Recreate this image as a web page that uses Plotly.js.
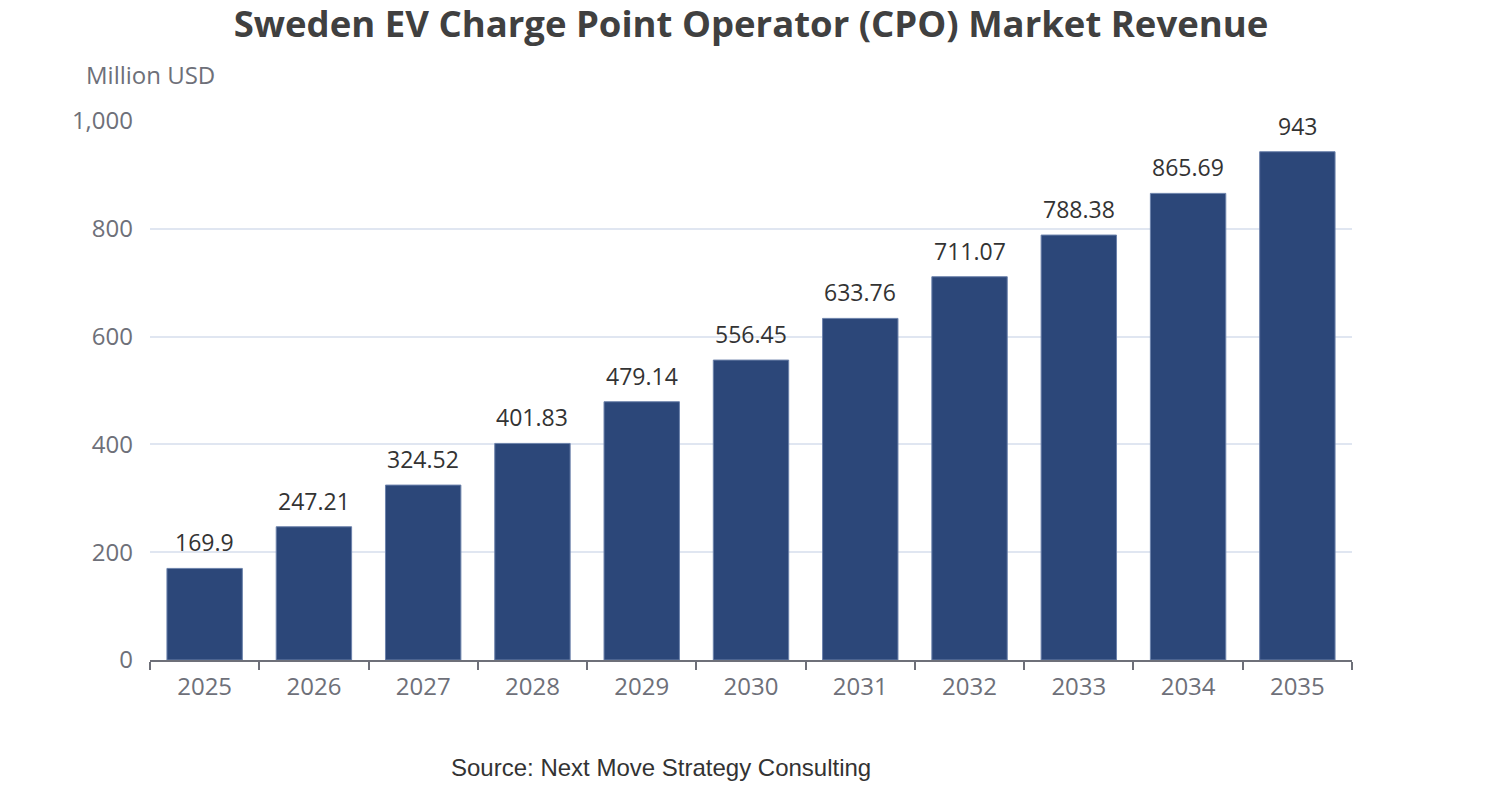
<!DOCTYPE html>
<html><head><meta charset="utf-8">
<script src="https://cdn.plot.ly/plotly-3.0.1.min.js"></script>
<style>html,body{margin:0;padding:0;background:#fff}#chart{width:1502px;height:800px}</style>
</head><body><div id="chart"></div>
<script>
const years = ["2025","2026","2027","2028","2029","2030","2031","2032","2033","2034","2035"];
const revenue = [169.9,247.21,324.52,401.83,479.14,556.45,633.76,711.07,788.38,865.69,943];
const valueLabels = ["169.9","247.21","324.52","401.83","479.14","556.45","633.76","711.07","788.38","865.69","943"];
const yTicks = [0,200,400,600,800,1000];
const yTickLabels = ["0","200","400","600","800","1,000"];
const font = "'Open Sans', 'Noto Sans', sans-serif";
const trace = {
  type:'bar', x: years, y: revenue,
  marker:{color:'#2c4779',line:{color:'#6c82ab',width:1}},
  hoverinfo:'x+y'
};
const valueAnnotations = years.map((yr,i)=>({
  x: i, y: revenue[i], xref:'x', yref:'y', text: valueLabels[i], showarrow:false,
  xanchor:'center', yanchor:'bottom', yshift:8,
  font:{family:font,size:23,color:'#333333'}
}));
const layout = {
  width:1502, height:800,
  margin:{l:150,r:150,t:121,b:140},
  paper_bgcolor:'#fff', plot_bgcolor:'#fff',
  bargap:0.31,
  showlegend:false,
  title:{text:'<b>Sweden EV Charge Point Operator (CPO) Market Revenue</b>',
    font:{family:font,size:36.5,color:'#404040'}, x:0.5, xanchor:'center', y:0.97, yanchor:'middle'},
  xaxis:{type:'category', range:[-0.5, years.length-0.5], autorange:false, tickangle:0,
    tickson:'boundaries', ticks:'outside', ticklen:8, tickcolor:'#6e7079', tickwidth:1.5,
    showline:true, linecolor:'#6e7079', linewidth:1.5, showgrid:false, ticklabelstandoff:4,
    tickfont:{family:font,size:24,color:'#6e7079'}},
  yaxis:{range:[0,1000], autorange:false, tickvals:yTicks, ticktext:yTickLabels, showgrid:true, gridcolor:'#e0e6f1', gridwidth:1.5,
    zeroline:false, showline:false, ticks:'', ticklabelstandoff:16,
    tickfont:{family:font,size:24,color:'#6e7079'}},
  annotations:[
    {text:'Million USD', xref:'paper', yref:'paper', x:0, y:1.086, xanchor:'center', yanchor:'middle', showarrow:false,
     font:{family:font,size:24,color:'#6e7079'}},
    {text:'Source: Next Move Strategy Consulting', xref:'paper', yref:'paper', x:(661-150)/1202, y:-(767-660)/539, xanchor:'center', yanchor:'middle', showarrow:false,
     font:{family:'Arial, Liberation Sans, sans-serif',size:24,color:'#333333'}}
  ].concat(valueAnnotations)
};
Plotly.newPlot('chart',[trace],layout,{displayModeBar:false,responsive:false});
</script></body></html>
